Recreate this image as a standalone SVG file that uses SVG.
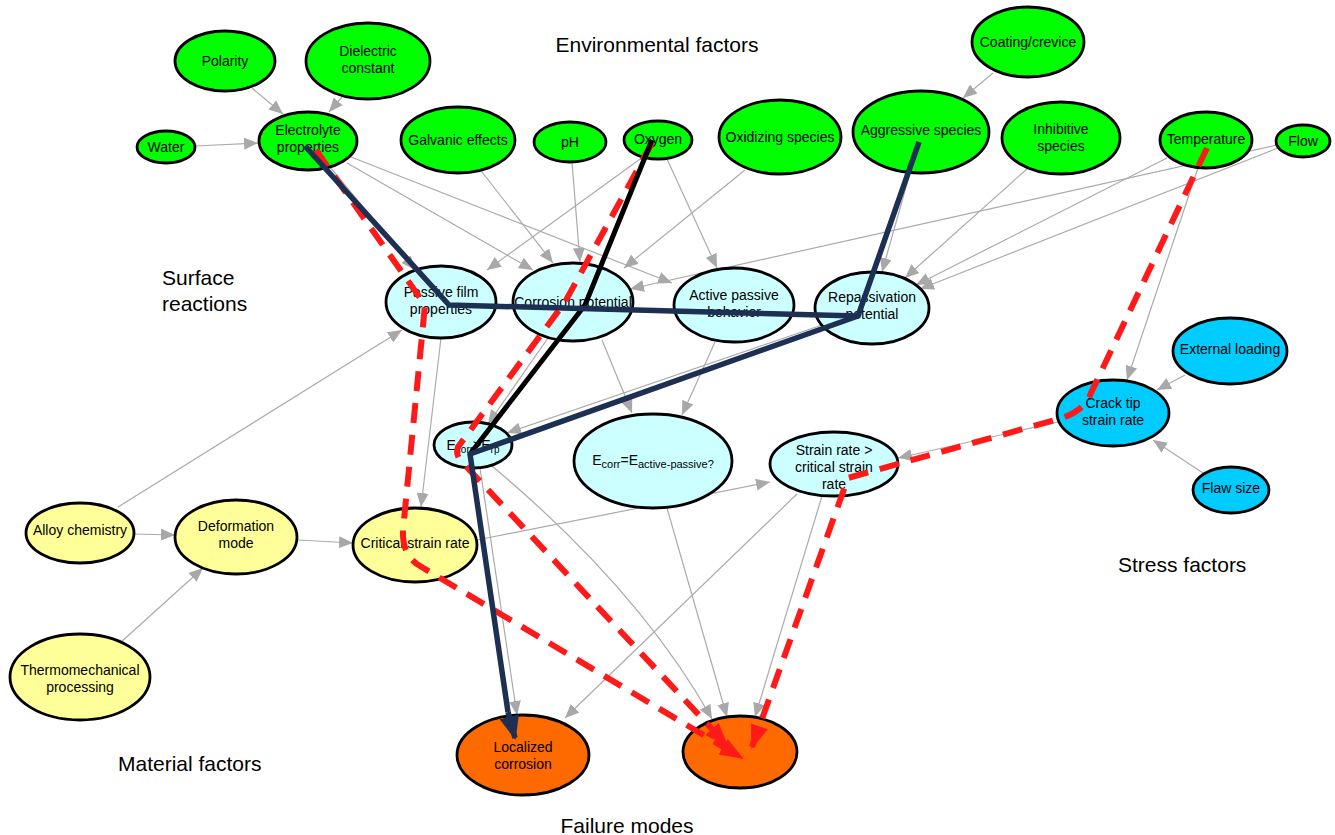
<svg xmlns="http://www.w3.org/2000/svg" width="1335" height="835" viewBox="0 0 1335 835">
<defs>
<style>
.n ellipse{stroke:#000;stroke-width:2.8}
.env ellipse{fill:#00ff00}
.surf ellipse{fill:#ccffff}
.str ellipse{fill:#00ccff}
.mat ellipse{fill:#ffff99}
.fail ellipse{fill:#ff6a00}
text{font-family:"Liberation Sans",Arial,sans-serif;fill:#000}
.n text{font-size:14px;text-anchor:middle}
.sec{font-size:21px}
.g path{fill:none;stroke:#ababab;stroke-width:1.2;marker-end:url(#ga)}
.red{fill:none;stroke:#ff1a1a;stroke-width:6;stroke-dasharray:20 12;marker-end:url(#ra)}
.navy{fill:none;stroke:#1d2f52;stroke-width:5.5;stroke-linejoin:round}
.blk{fill:none;stroke:#000;stroke-width:5;stroke-linejoin:round}
</style>
<marker id="ga" viewBox="0 0 14 12" refX="14" refY="6" markerWidth="14" markerHeight="12" markerUnits="userSpaceOnUse" orient="auto"><path d="M0,0 L14,6 L0,12 z" fill="#a8a8a8"/></marker>
<marker id="ra" viewBox="0 0 24 18" refX="22" refY="9" markerWidth="24" markerHeight="18" markerUnits="userSpaceOnUse" orient="auto"><path d="M0,0 L24,9 L0,18 z" fill="#ff1a1a"/></marker>
<marker id="na" viewBox="0 0 24 20" refX="22" refY="10" markerWidth="24" markerHeight="20" markerUnits="userSpaceOnUse" orient="auto"><path d="M0,0 L24,10 L0,20 z" fill="#1d2f52"/></marker>
</defs>
<rect width="1335" height="835" fill="#fff"/>

<g id="labels">
<text class="sec" x="657" y="52" text-anchor="middle">Environmental factors</text>
<text class="sec" x="162" y="285">Surface</text>
<text class="sec" x="162" y="311">reactions</text>
<text class="sec" x="1118" y="572">Stress factors</text>
<text class="sec" x="118" y="771">Material factors</text>
<text class="sec" x="627" y="833" text-anchor="middle">Failure modes</text>
</g>

<g id="connectors" class="g">
<path d="M252,88 L283,114"/>
<path d="M342,97 L329,112"/>
<path d="M195,146 L258,143"/>
<path d="M993,73 L963,98"/>
<path d="M330,167 L415,270"/>
<path d="M347,163 L533,270"/>
<path d="M351,157 L672,283"/>
<path d="M482,172 L553,263"/>
<path d="M572,162 L580,262"/>
<path d="M643,157 L487,270"/>
<path d="M667,159 L717,268"/>
<path d="M745,170 L624,268"/>
<path d="M910,173 L882,272"/>
<path d="M1028,168 L905,278"/>
<path d="M1167,158 L916,285"/>
<path d="M1278,148 L920,289"/>
<path d="M1277,145 L630,289"/>
<path d="M1198,168 L1127,380"/>
<path d="M1185,375 L1157,390"/>
<path d="M1203,473 L1153,440"/>
<path d="M1058,422 L898,458"/>
<path d="M133,534 L175,535"/>
<path d="M120,643 L203,568"/>
<path d="M298,540 L353,543"/>
<path d="M118,507 L402,330"/>
<path d="M441,338 L421,507"/>
<path d="M548,338 L488,424"/>
<path d="M602,340 L632,413"/>
<path d="M715,342 L682,415"/>
<path d="M822,325 L507,433"/>
<path d="M477,540 L770,482"/>
<path d="M480,468 L517,715"/>
<path d="M492,466 Q640,590 712,719"/>
<path d="M667,508 L727,717"/>
<path d="M797,494 L565,718"/>
<path d="M822,496 L755,717"/>
</g>

<g id="polarity" class="n env"><ellipse cx="225" cy="61" rx="50" ry="30"/><text x="225" y="66">Polarity</text></g>
<g id="dielectric" class="n env"><ellipse cx="368" cy="61" rx="62" ry="38"/><text x="368" y="56">Dielectric</text><text x="368" y="73">constant</text></g>
<g id="water" class="n env"><ellipse cx="166" cy="147" rx="29" ry="16"/><text x="166" y="152">Water</text></g>
<g id="electrolyte" class="n env"><ellipse cx="308" cy="141" rx="49" ry="29"/><text x="308" y="135">Electrolyte</text><text x="308" y="152">properties</text></g>
<g id="galvanic" class="n env"><ellipse cx="458" cy="140" rx="57" ry="33"/><text x="458" y="145">Galvanic effects</text></g>
<g id="ph" class="n env"><ellipse cx="570" cy="142" rx="36" ry="20"/><text x="570" y="147">pH</text></g>
<g id="oxygen" class="n env"><ellipse cx="658" cy="140" rx="34" ry="19"/><text x="658" y="144">Oxygen</text></g>
<g id="oxidizing" class="n env"><ellipse cx="780" cy="137" rx="61" ry="37"/><text x="780" y="142">Oxidizing species</text></g>
<g id="aggressive" class="n env"><ellipse cx="921" cy="132" rx="68" ry="41"/><text x="921" y="135">Aggressive species</text></g>
<g id="coating" class="n env"><ellipse cx="1028" cy="42" rx="56" ry="35"/><text x="1028" y="47">Coating/crevice</text></g>
<g id="inhibitive" class="n env"><ellipse cx="1061" cy="138" rx="59" ry="36"/><text x="1061" y="134">Inhibitive</text><text x="1061" y="151">species</text></g>
<g id="temperature" class="n env"><ellipse cx="1206" cy="140" rx="46" ry="28"/><text x="1206" y="144">Temperature</text></g>
<g id="flow" class="n env"><ellipse cx="1303" cy="141" rx="27" ry="16"/><text x="1303" y="146">Flow</text></g>

<g id="passive-film" class="n surf"><ellipse cx="441" cy="302" rx="55" ry="36"/><text x="441" y="297">Passive film</text><text x="441" y="314">properties</text></g>
<g id="corrosion-potential" class="n surf"><ellipse cx="573" cy="302" rx="60" ry="39"/><text x="573" y="307">Corrosion potential</text></g>
<g id="active-passive" class="n surf"><ellipse cx="734" cy="305" rx="60" ry="37"/><text x="734" y="300">Active passive</text><text x="734" y="317">behavior</text></g>
<g id="repassivation" class="n surf"><ellipse cx="872" cy="308" rx="57" ry="36"/><text x="872" y="302">Repassivation</text><text x="872" y="319">potential</text></g>
<g id="ecorr-erp" class="n surf"><ellipse cx="473" cy="445" rx="39" ry="23"/><text x="473" y="450">E<tspan font-size="10" dy="3">corr</tspan><tspan dy="-3">&gt;E</tspan><tspan font-size="10" dy="3">rp</tspan></text></g>
<g id="ecorr-eap" class="n surf"><ellipse cx="653" cy="461" rx="79" ry="47"/><text x="653" y="465" font-size="15">E<tspan font-size="11" dy="3">corr</tspan><tspan dy="-3">=E</tspan><tspan font-size="11" dy="3">active-passive?</tspan></text></g>
<g id="strain-rate" class="n surf"><ellipse cx="834" cy="464" rx="64" ry="32"/><text x="834" y="455">Strain rate &gt;</text><text x="834" y="472">critical strain</text><text x="834" y="489">rate</text></g>

<g id="crack-tip" class="n str"><ellipse cx="1113" cy="413" rx="56" ry="33"/><text x="1113" y="408">Crack tip</text><text x="1113" y="425">strain rate</text></g>
<g id="external-loading" class="n str"><ellipse cx="1230" cy="351" rx="57" ry="33"/><text x="1230" y="354">External loading</text></g>
<g id="flaw-size" class="n str"><ellipse cx="1231" cy="490" rx="38" ry="23"/><text x="1231" y="493">Flaw size</text></g>

<g id="alloy" class="n mat"><ellipse cx="80" cy="533" rx="54" ry="30"/><text x="80" y="535">Alloy chemistry</text></g>
<g id="deformation" class="n mat"><ellipse cx="236" cy="537" rx="61" ry="37"/><text x="236" y="531">Deformation</text><text x="236" y="548">mode</text></g>
<g id="critical-strain" class="n mat"><ellipse cx="415" cy="545" rx="62" ry="37"/><text x="415" y="548">Critical strain rate</text></g>
<g id="thermo" class="n mat"><ellipse cx="80" cy="677" rx="70" ry="43"/><text x="80" y="675">Thermomechanical</text><text x="80" y="692">processing</text></g>

<g id="localized" class="n fail"><ellipse cx="523" cy="755" rx="66" ry="40"/><text x="523" y="752">Localized</text><text x="523" y="769">corrosion</text></g>
<g id="scc" class="n fail"><ellipse cx="740" cy="752" rx="57" ry="36"/></g>

<g id="highlight-paths">
<path class="red" d="M316,150 L425,305 L403,530 Q402,556 420,566 L742,758"/>
<path class="red" d="M652,143 L565,302 L458,447 Q455,455 462,462 L727,745"/>
<path class="red" d="M1207,148 L1091,393 Q1085,410 1062,418 L848,478 L752,747"/>
<path class="blk" d="M652,140 L585,305 L470,454"/>
<path class="navy" d="M305,146 L449,305 L858,316"/>
<path class="navy" d="M919,142 L858,316 L470,454 L508,712"/>
<path class="navy" d="M508,712 L515,738" marker-end="url(#na)"/>
</g>
</svg>
